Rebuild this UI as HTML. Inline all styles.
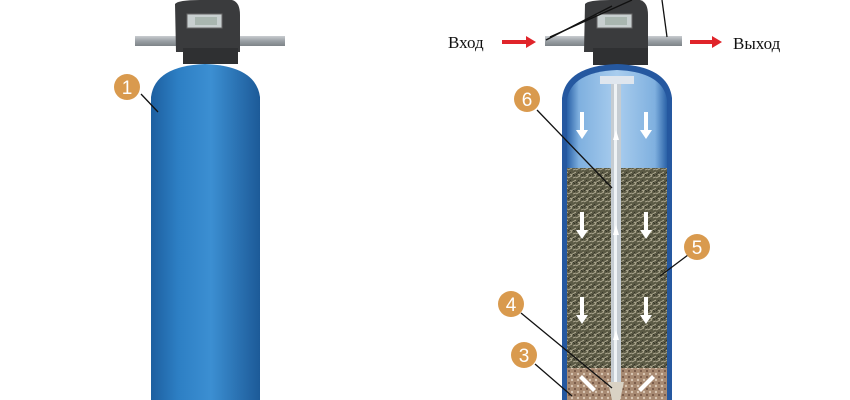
<!DOCTYPE html>
<html><head><meta charset="utf-8"><style>
html,body{margin:0;padding:0;background:#fff;width:850px;height:400px;overflow:hidden}
</style></head><body>
<svg width="850" height="400" viewBox="0 0 850 400" xmlns="http://www.w3.org/2000/svg">
<defs>
<linearGradient id="blue" x1="0" x2="1">
<stop offset="0" stop-color="#1d5fa0"/><stop offset="0.25" stop-color="#2d7fc4"/>
<stop offset="0.55" stop-color="#3c8fd2"/><stop offset="1" stop-color="#1c5a98"/></linearGradient>
<linearGradient id="glass" x1="0" x2="1">
<stop offset="0" stop-color="#2a62a8"/><stop offset="0.12" stop-color="#7fb0df"/>
<stop offset="0.5" stop-color="#a9cdee"/><stop offset="0.88" stop-color="#7fb0df"/><stop offset="1" stop-color="#2a62a8"/></linearGradient>
<linearGradient id="pipe" x1="0" y1="0" x2="0" y2="1">
<stop offset="0" stop-color="#c9cdd0"/><stop offset="0.5" stop-color="#9aa0a5"/><stop offset="1" stop-color="#7d8388"/></linearGradient>
<pattern id="grav" width="8" height="8" patternUnits="userSpaceOnUse">
<rect width="8" height="8" fill="#5b5a45"/>
<path d="M0 2L4 0M3 7L8 4M1 5L4 8M5 2L8 1" stroke="#b8b29a" stroke-width="0.8"/>
<path d="M0 7L3 4M5 6L7 8" stroke="#2f2e22" stroke-width="0.8"/></pattern>
<pattern id="peb" width="6" height="6" patternUnits="userSpaceOnUse">
<rect width="6" height="6" fill="#a88a72"/><circle cx="2" cy="2" r="1.2" fill="#d8c6b3"/><circle cx="5" cy="5" r="1" fill="#6e5040"/></pattern>
</defs>

<!-- LEFT -->
<rect x="135" y="36" width="150" height="10" fill="url(#pipe)"/>
<path d="M175 4 Q178 0 200 0 L232 0 Q240 2 240 15 L240 52 L176 52 Z" fill="#3a3b3d"/>
<rect x="187" y="14" width="35" height="14" fill="#c8cfd0" stroke="#666"/>
<rect x="195" y="17" width="22" height="8" fill="#a9b6b0"/>
<rect x="183" y="48" width="55" height="16" fill="#2f3032"/>
<path d="M151 97 Q155 66 205 64 Q256 66 260 97 L260 400 L151 400 Z" fill="url(#blue)"/>
<line x1="141" y1="94" x2="158" y2="112" stroke="#111" stroke-width="1.3"/>
<circle cx="127" cy="87" r="13" fill="#d99a4e"/>
<text x="127" y="94" font-family="Liberation Sans,sans-serif" font-size="19" fill="#fff" text-anchor="middle">1</text>

<!-- RIGHT -->
<rect x="545" y="36" width="137" height="10" fill="url(#pipe)"/>
<path d="M585 4 Q588 0 610 0 L640 0 Q648 2 648 15 L648 52 L584 52 Z" fill="#3a3b3d"/>
<rect x="597" y="14" width="35" height="14" fill="#c8cfd0" stroke="#666"/>
<rect x="605" y="17" width="22" height="8" fill="#a9b6b0"/>
<rect x="593" y="48" width="55" height="17" fill="#2f3032"/>
<path d="M562 98 Q566 66 617 64 Q668 66 672 98 L672 400 L562 400 Z" fill="#2558a0"/>
<path d="M567 100 Q571 72 617 70 Q663 72 667 100 L667 168 L567 168 Z" fill="url(#glass)"/>
<rect x="567" y="168" width="100" height="200" fill="url(#grav)"/>
<rect x="567" y="368" width="100" height="32" fill="url(#peb)"/>
<rect x="600" y="76" width="34" height="8" fill="#dfe6ee"/>
<rect x="611" y="84" width="10" height="300" fill="#c5ccd2"/>
<rect x="614" y="84" width="3" height="300" fill="#eef2f5"/>
<path d="M608 382 L624 382 L620 400 L612 400 Z" fill="#d9d2c4"/>
<g fill="#fff">
<path d="M580 112h4v18h4l-6 9-6-9h4z"/><path d="M644 112h4v18h4l-6 9-6-9h4z"/>
<path d="M580 212h4v18h4l-6 9-6-9h4z"/><path d="M644 212h4v18h4l-6 9-6-9h4z"/>
<path d="M580 297h4v18h4l-6 9-6-9h4z"/><path d="M644 297h4v18h4l-6 9-6-9h4z"/>
<path d="M613 140l3-10 3 10z"/><path d="M613 235l3-10 3 10z"/><path d="M613 340l3-10 3 10z"/>
<path d="M582 375l14 14-3 3-14-14z"/><path d="M652 375l-14 14 3 3 14-14z"/>
</g>
<g stroke="#111" stroke-width="1.3" fill="none">
<line x1="550" y1="37" x2="632" y2="0"/><line x1="546" y1="40" x2="612" y2="6"/>
<line x1="667" y1="37" x2="662" y2="0"/>
<line x1="537" y1="110" x2="612" y2="188"/>
<line x1="688" y1="255" x2="660" y2="276"/>
<line x1="521" y1="313" x2="612" y2="388"/>
<line x1="535" y1="364" x2="572" y2="396"/>
</g>
<g font-family="Liberation Sans,sans-serif" font-size="19" fill="#fff" text-anchor="middle">
<circle cx="527" cy="99" r="13" fill="#d99a4e"/><text x="527" y="106">6</text>
<circle cx="697" cy="247" r="13" fill="#d99a4e"/><text x="697" y="254">5</text>
<circle cx="511" cy="304" r="13" fill="#d99a4e"/><text x="511" y="311">4</text>
<circle cx="524" cy="355" r="13" fill="#d99a4e"/><text x="524" y="362">3</text>
</g>
<path d="M502 40h24v-4l10 6-10 6v-4h-24z" fill="#e0242a"/>
<path d="M690 40h22v-4l10 6-10 6v-4h-22z" fill="#e0242a"/>
<g font-family="Liberation Serif,serif" font-size="17" fill="#111">
<text x="448" y="48">Вход</text><text x="733" y="49">Выход</text></g>
</svg>
</body></html>
